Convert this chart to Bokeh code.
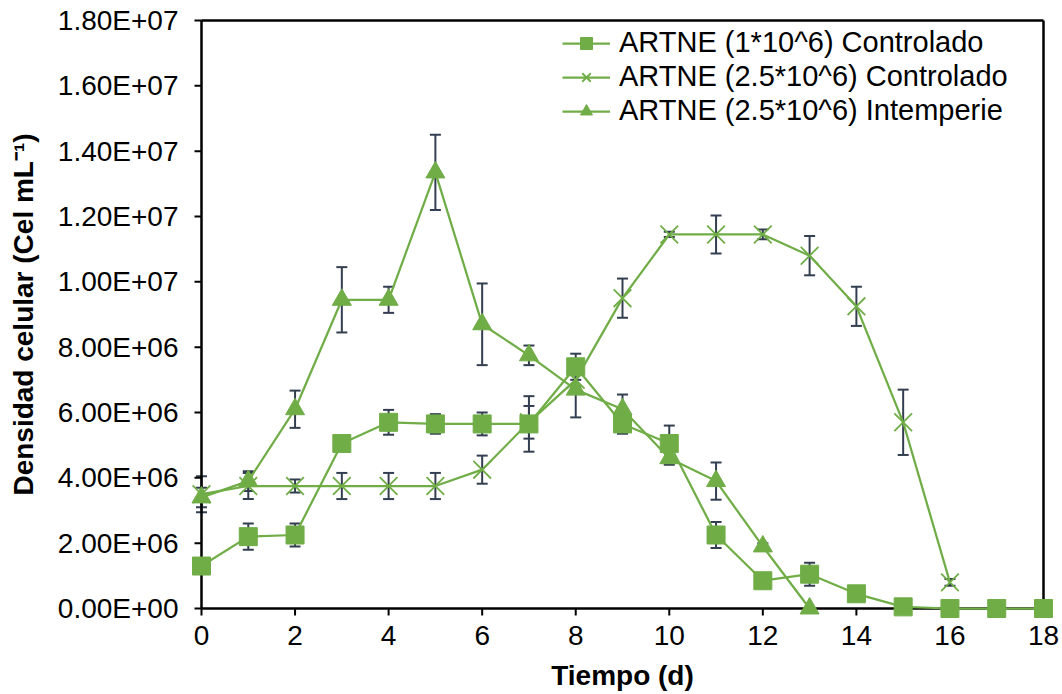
from bokeh.plotting import figure
from bokeh.models import (ColumnDataSource, Whisker, TeeHead, FixedTicker,
                          CustomJSTickFormatter, Legend, LegendItem, Range1d)
from bokeh.embed import file_html
from bokeh.resources import INLINE

# ---------------- data ----------------
days_a = list(range(19))
artne_1e6_ctrl = [1.30e6, 2.20e6, 2.25e6, 5.05e6, 5.70e6, 5.65e6, 5.65e6, 5.65e6, 7.40e6, 5.65e6,
                  5.05e6, 2.25e6, 0.85e6, 1.05e6, 0.45e6, 0.05e6, 0.0, 0.0, 0.0]
err_1e6_ctrl = [0.0, 0.40e6, 0.35e6, 0.0, 0.38e6, 0.30e6, 0.35e6, 0.85e6, 0.40e6, 0.30e6,
                0.55e6, 0.40e6, 0.0, 0.35e6, 0.10e6, 0.0, 0.0, 0.0, 0.0]

days_b = list(range(17))
artne_25e6_ctrl = [3.50e6, 3.75e6, 3.75e6, 3.75e6, 3.75e6, 3.75e6, 4.25e6, 5.70e6, 7.00e6, 9.50e6,
                   11.45e6, 11.45e6, 11.45e6, 10.80e6, 9.25e6, 5.70e6, 0.80e6]
err_25e6_ctrl = [0.55e6, 0.40e6, 0.20e6, 0.40e6, 0.40e6, 0.40e6, 0.43e6, 0.50e6, 0.20e6, 0.60e6,
                 0.08e6, 0.58e6, 0.15e6, 0.60e6, 0.60e6, 1.00e6, 0.10e6]

days_c = list(range(14))
artne_25e6_int = [3.40e6, 3.90e6, 6.10e6, 9.45e6, 9.45e6, 13.35e6, 8.70e6, 7.75e6, 6.70e6, 6.10e6,
                  4.60e6, 3.90e6, 1.90e6, 0.0]
err_25e6_int = [0.30e6, 0.30e6, 0.57e6, 1.00e6, 0.40e6, 1.15e6, 1.25e6, 0.30e6, 0.85e6, 0.45e6,
                0.20e6, 0.57e6, 0.10e6, 0.0]

labels = ["ARTNE (1*10^6) Controlado", "ARTNE (2.5*10^6) Controlado", "ARTNE (2.5*10^6) Intemperie"]
x_ticks = [0, 2, 4, 6, 8, 10, 12, 14, 16, 18]
y_ticks = [0, 2e6, 4e6, 6e6, 8e6, 1e7, 1.2e7, 1.4e7, 1.6e7, 1.8e7]
x_title = "Tiempo (d)"
y_title = "Densidad celular (Cel mL\u207b\u00b9)"

# ---------------- style / layout ----------------
GREEN = "#70AD47"
ERR = "#333F50"
FONT = "Liberation Sans"
X_MIN, X_MAX = x_ticks[0], x_ticks[-1]
Y_MIN, Y_MAX = y_ticks[0], y_ticks[-1]

FR_L, FR_R, FR_T, FR_B = 189, 1055, 8, 620   # frame px (incl. padding)
PAD = 12
pxx = (FR_R - FR_L - 2 * PAD) / (X_MAX - X_MIN)
pxy = (FR_B - FR_T - 2 * PAD) / (Y_MAX - Y_MIN)
pad_x = PAD / pxx
pad_y = PAD / pxy

p = figure(width=1062, height=694,
           x_range=Range1d(X_MIN - pad_x, X_MAX + pad_x),
           y_range=Range1d(Y_MIN - pad_y, Y_MAX + pad_y),
           output_backend="svg", toolbar_location=None,
           min_border_left=FR_L, min_border_right=1062 - FR_R,
           min_border_top=FR_T, min_border_bottom=694 - FR_B)
p.grid.visible = False
p.outline_line_color = None
p.background_fill_color = "white"
p.border_fill_color = "white"

for ax in (p.xaxis, p.yaxis):
    ax.axis_line_color = None
    ax.major_tick_line_color = None
    ax.minor_tick_line_color = None
    ax.major_tick_in = 0
    ax.major_tick_out = 0
    ax.major_label_text_font = FONT
    ax.major_label_text_font_size = "28px"
    ax.major_label_text_color = "#000000"
    ax.axis_label_text_font = FONT
    ax.axis_label_text_font_size = "28px"
    ax.axis_label_text_font_style = "bold"
    ax.axis_label_text_color = "#000000"

p.xaxis.ticker = FixedTicker(ticks=x_ticks)
p.yaxis.ticker = FixedTicker(ticks=y_ticks)
p.yaxis.formatter = CustomJSTickFormatter(code="""
    var s = tick.toExponential(2).split('e');
    var e = parseInt(s[1]);
    var sign = e < 0 ? '-' : '+';
    e = Math.abs(e);
    return s[0] + 'E' + sign + (e < 10 ? '0' : '') + e;
""")
p.xaxis.major_label_standoff = 5
p.yaxis.major_label_standoff = 11
p.xaxis.axis_label = x_title
p.yaxis.axis_label = y_title
p.xaxis.axis_label_standoff = 12
p.yaxis.axis_label_standoff = 16

# frame box and axis lines (drawn in data space at the axis limits)
p.segment(x0=[X_MIN, X_MIN, X_MAX, X_MIN], y0=[Y_MIN, Y_MIN, Y_MIN, Y_MAX],
          x1=[X_MAX, X_MIN, X_MAX, X_MAX], y1=[Y_MIN, Y_MAX, Y_MAX, Y_MAX],
          line_color="#000000", line_width=2.5)
# tick marks (outside)
tlx = 7 / pxx
tly = 7 / pxy
p.segment(x0=[X_MIN - tlx] * len(y_ticks), x1=[X_MIN] * len(y_ticks), y0=y_ticks, y1=y_ticks,
          line_color="#000000", line_width=2)
p.segment(x0=x_ticks, x1=x_ticks, y0=[Y_MIN - tly] * len(x_ticks), y1=[Y_MIN] * len(x_ticks),
          line_color="#000000", line_width=2)


def add_err(days, vals, errs):
    xs = [d for d, e in zip(days, errs) if e > 0]
    up = [v + e for v, e in zip(vals, errs) if e > 0]
    lo = [v - e for v, e in zip(vals, errs) if e > 0]
    src = ColumnDataSource(dict(x=xs, upper=up, lower=lo))
    w = Whisker(base="x", upper="upper", lower="lower", source=src,
                line_color=ERR, line_width=2,
                upper_head=TeeHead(size=11, line_color=ERR, line_width=2),
                lower_head=TeeHead(size=11, line_color=ERR, line_width=2))
    p.add_layout(w)


add_err(days_c, artne_25e6_int, err_25e6_int)
add_err(days_b, artne_25e6_ctrl, err_25e6_ctrl)
add_err(days_a, artne_1e6_ctrl, err_1e6_ctrl)

# series (triangles first, squares on top)
l3 = p.line(days_c, artne_25e6_int, line_color=GREEN, line_width=2.25)
m3 = p.scatter(days_c, artne_25e6_int, marker="triangle", size=19, fill_color=GREEN, line_color=GREEN)
l2 = p.line(days_b, artne_25e6_ctrl, line_color=GREEN, line_width=2.25)
m2 = p.scatter(days_b, artne_25e6_ctrl, marker="x", size=25, line_color=GREEN, line_width=1.8)
l1 = p.line(days_a, artne_1e6_ctrl, line_color=GREEN, line_width=2.25)
m1 = p.scatter(days_a, artne_1e6_ctrl, marker="square", size=18, fill_color=GREEN, line_color=GREEN)

legend = Legend(items=[LegendItem(label=labels[0], renderers=[l1, m1]),
                       LegendItem(label=labels[1], renderers=[l2, m2]),
                       LegendItem(label=labels[2], renderers=[l3, m3])],
                location=(373, 493))
legend.background_fill_alpha = 0
legend.border_line_color = None
legend.label_text_font = FONT
legend.label_text_font_size = "29px"
legend.label_text_color = "#000000"
legend.glyph_width = 48
legend.glyph_height = 30
legend.label_height = 30
legend.label_standoff = 9
legend.spacing = 1
legend.padding = 5
legend.margin = 0
p.add_layout(legend)

open("out.html", "w").write(file_html(p, INLINE))
